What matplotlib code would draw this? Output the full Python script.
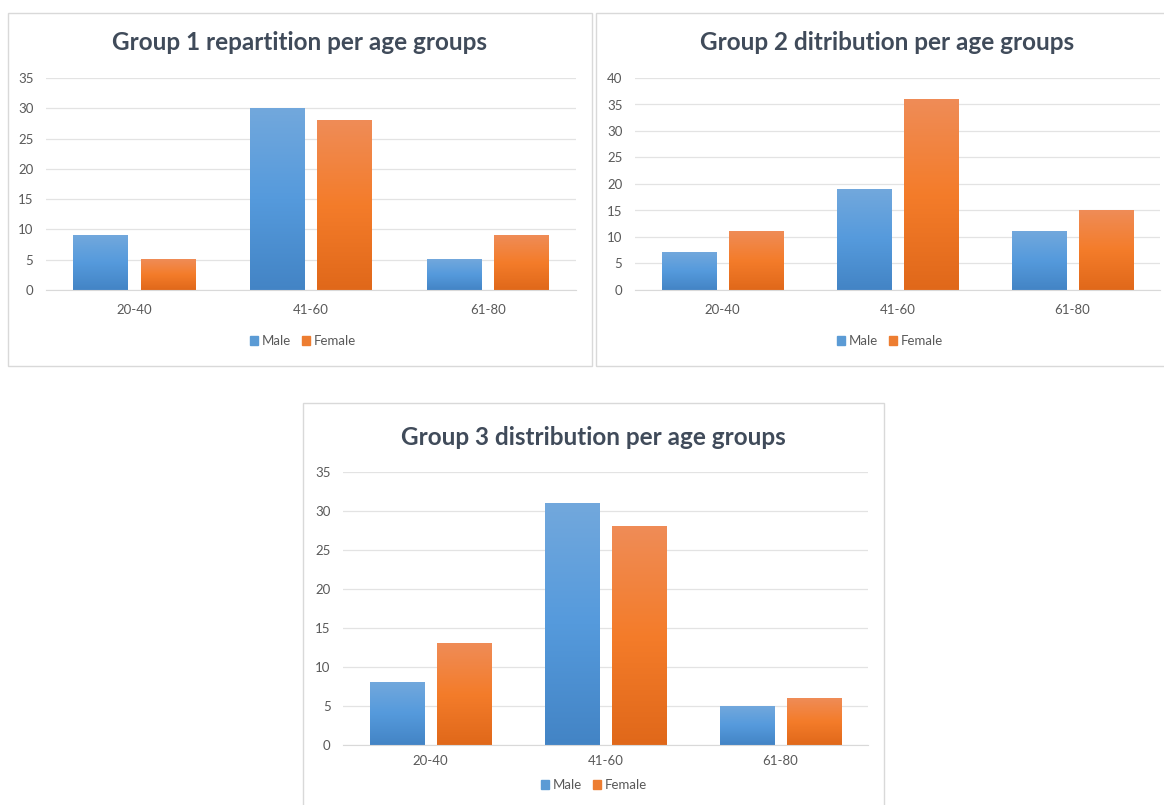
import numpy as np
import matplotlib
matplotlib.use("Agg")
import matplotlib.pyplot as plt
from matplotlib.colors import LinearSegmentedColormap
from matplotlib.patches import Rectangle, Patch

plt.rcParams['font.family'] = ['Lato', 'DejaVu Sans']

# data
age_groups = ['20-40', '41-60', '61-80']
g1_male = [9, 30, 5]
g1_female = [5, 28, 9]
g2_male = [7, 19, 11]
g2_female = [11, 36, 15]
g3_male = [8, 31, 5]
g3_female = [13, 28, 6]
titles = ['Group 1 repartition per age groups',
          'Group 2 ditribution per age groups',
          'Group 3 distribution per age groups']

W, H = 1164, 805
fig = plt.figure(figsize=(W / 100, H / 100), dpi=100)

def px_box(l, t, r, b):
    return [l / W, 1 - b / H, (r - l) / W, (b - t) / H]

# panel frames
for (l, t, r, b) in [(7.5, 13, 592, 366), (596, 13, 1175, 366), (303, 403, 884, 815)]:
    fig.patches.append(Rectangle((l / W, 1 - b / H), (r - l) / W, (b - t) / H,
                                 transform=fig.transFigure, fill=False,
                                 edgecolor='#D9D9D9', lw=1.0))

blue_cm = LinearSegmentedColormap.from_list('bl', ['#4384C5', '#559ADC', '#72A8DD'])
orange_cm = LinearSegmentedColormap.from_list('or', ['#E0681A', '#F47C2A', '#EF8C57'])
grad = np.linspace(0, 1, 256).reshape(-1, 1)

def draw_panel(box, male, female, ymax, title, title_xy, legend_xy, lab_pad):
    ax = fig.add_axes(px_box(*box))
    x = np.arange(len(age_groups))
    w = 0.31
    bm = ax.bar(x - 0.19, male, width=w, color='none', edgecolor='none')
    bf = ax.bar(x + 0.19, female, width=w, color='none', edgecolor='none')
    for bars, cm in [(bm, blue_cm), (bf, orange_cm)]:
        for bar in bars:
            x0, y0 = bar.get_xy()
            ax.imshow(grad, extent=[x0, x0 + bar.get_width(), y0, y0 + bar.get_height()],
                      origin='lower', aspect='auto', cmap=cm, zorder=2)
    ax.set_xlim(-0.5, 2.5)
    ax.set_ylim(0, ymax)
    ax.set_aspect('auto')
    ax.set_yticks(np.arange(0, ymax + 1, 5))
    ax.set_xticks(x)
    ax.set_xticklabels(age_groups)
    ax.yaxis.grid(True, color='#E3E3E3', lw=0.9)
    ax.set_axisbelow(True)
    for s in ['top', 'right', 'left']:
        ax.spines[s].set_visible(False)
    ax.spines['bottom'].set_color('#D9D9D9')
    ax.tick_params(length=0, labelsize=9.5, colors='#595959')
    ax.tick_params(axis='x', pad=lab_pad)
    ax.tick_params(axis='y', pad=9)
    fig.text(title_xy[0] / W, 1 - title_xy[1] / H, title, ha='center', va='center',
             fontsize=17.5, fontweight='bold', color='#404B5A')
    handles = [Patch(color='#5B9BD5', label='Male'), Patch(color='#ED7D31', label='Female')]
    fig.legend(handles=handles, loc='center', ncol=2, frameon=False,
               bbox_to_anchor=(legend_xy[0] / W, 1 - legend_xy[1] / H),
               handlelength=0.6, handleheight=0.6, handletextpad=0.3,
               columnspacing=0.8, labelcolor='#595959', fontsize=9.5)

draw_panel((46, 78, 576, 290), g1_male, g1_female, 35, titles[0], (300, 42), (303, 341), 10)
draw_panel((635, 78, 1160, 290), g2_male, g2_female, 40, titles[1], (887, 43), (890, 341), 10)
draw_panel((343, 472, 868, 745), g3_male, g3_female, 35, titles[2], (593, 437), (594, 785), 7)

fig.savefig('out.png', dpi=100)
